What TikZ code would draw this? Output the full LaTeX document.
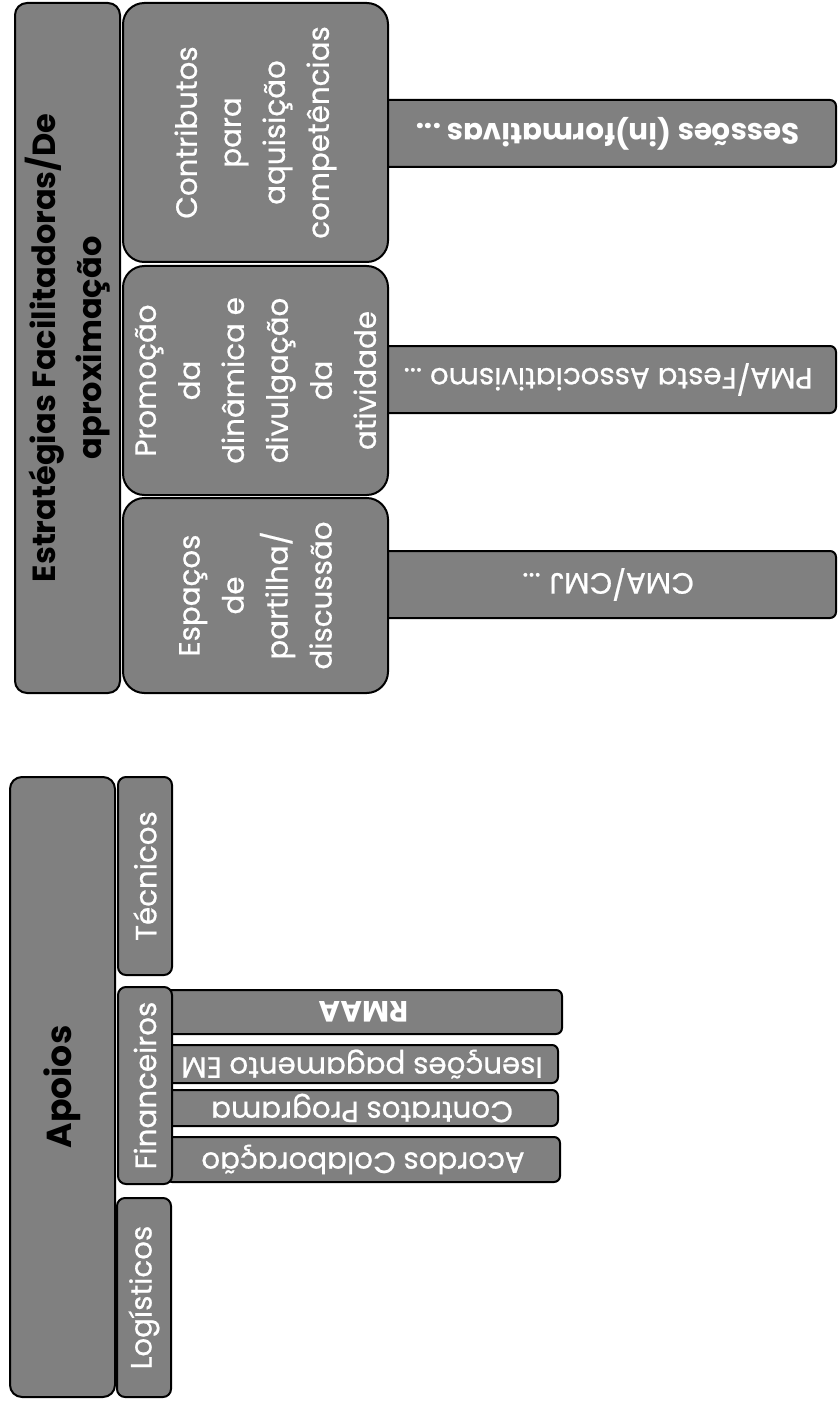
\documentclass[tikz,border=0pt]{standalone}
\usepackage{fontspec}
\setmainfont{Poppins}
\newfontfamily\lblfont{Poppins}[FakeBold=0.7]
\usetikzlibrary{fit}

\definecolor{boxgray}{RGB}{128,128,128}
\tikzset{
  blok/.style={draw=black, line width=1.5pt, fill=boxgray, inner sep=0pt},
  bigblok/.style={blok, rounded corners=9pt},
  roundblok/.style={blok, rounded corners=16pt},
  smallblok/.style={blok, rounded corners=6pt},
  barblok/.style={blok, rounded corners=4.5pt},
  lbl/.style={text=white, align=center, inner sep=0.75pt, font=\lblfont\fontsize{22}{33}\selectfont},
  boldlbl/.style={lbl, font=\fontsize{22}{33}\selectfont\bfseries},
  toplbl/.style={text=black, align=center, inner sep=0.75pt, font=\fontsize{24}{35}\selectfont\bfseries}
}

\begin{document}
\begin{tikzpicture}[x=0.75pt,y=0.75pt,yscale=-1,xscale=1]
    \useasboundingbox (0,0) rectangle (838,1401);

    %Shape: bars behind the upper boxes
    \node [barblok, fit={(380,100) (836,167)}] (sessoes) {};
    \node [barblok, fit={(380,346) (836,413)}] (pma) {};
    \node [barblok, fit={(380,551) (836,618)}] (cma) {};
    %Shape: bars behind Financeiros
    \node [barblok, fit={(166,990) (562,1034)}] (rmaa) {};
    \node [barblok, fit={(166,1045) (558,1083)}] (isencoes) {};
    \node [barblok, fit={(166,1090) (558,1126)}] (contratos) {};
    \node [barblok, fit={(166,1137) (560,1182)}] (acordos) {};

    %Shape: Rounded Rect
    \node [bigblok, fit={(15,3) (120,693)}] (estrategias) {};
    \node [roundblok, fit={(123,3) (388,262)}] (contributos) {};
    \node [roundblok, fit={(123,266) (388,495)}] (promocao) {};
    \node [roundblok, fit={(123,498) (388,693)}] (espacos) {};
    %Shape: Rounded Rect
    \node [bigblok, fit={(10,777) (115,1397)}] (apoios) {};
    \node [smallblok, fit={(118,777) (172,975)}] (tecnicos) {};
    \node [smallblok, fit={(118,987) (172,1184)}] (financeiros) {};
    \node [smallblok, fit={(117,1198) (171,1397)}] (logisticos) {};

    % Text Node
    \draw (estrategias.center) node [toplbl, rotate=90] (estrategiastxt) {Estratégias Facilitadoras/De\\aproximação};
    % Text Node
    \draw (contributos.center) node [lbl, rotate=90] (contributostxt) {Contributos\\para\\aquisição\\competências};
    % Text Node
    \draw (promocao.center) node [lbl, rotate=90] (promocaotxt) {Promoção\\da\\dinâmica e\\divulgação\\da\\atividade};
    % Text Node
    \draw (espacos.center) node [lbl, rotate=90] (espacostxt) {Espaços\\de\\partilha/\\discussão};
    % Text Node
    \draw (sessoes.center) node [boldlbl, rotate=180] (sessoestxt) {Sessões (in)formativas ...};
    % Text Node
    \draw (pma.center) node [lbl, rotate=180] (pmatxt) {PMA/Festa Associativismo ...};
    % Text Node
    \draw (cma.center) node [lbl, rotate=180] (cmatxt) {CMA/CMJ ...};

    % Text Node
    \draw (apoios.center) node [toplbl, rotate=90, font=\fontsize{26}{35}\selectfont\bfseries] (apoiostxt) {Apoios};
    % Text Node
    \draw (tecnicos.center) node [lbl, rotate=90] (tecnicostxt) {Técnicos};
    % Text Node
    \draw (financeiros.center) node [lbl, rotate=90] (financeirostxt) {Financeiros};
    % Text Node
    \draw (logisticos.center) node [lbl, rotate=90] (logisticostxt) {Logísticos};
    % Text Node
    \draw (rmaa.center) node [boldlbl, rotate=180] (rmaatxt) {RMAA};
    % Text Node
    \draw (isencoes.center) node [lbl, rotate=180] (isencoestxt) {Isenções pagamento EM};
    % Text Node
    \draw (contratos.center) node [lbl, rotate=180] (contratostxt) {Contratos Programa};
    % Text Node
    \draw (acordos.center) node [lbl, rotate=180] (acordostxt) {Acordos Colaboração};

\end{tikzpicture}
\end{document}
